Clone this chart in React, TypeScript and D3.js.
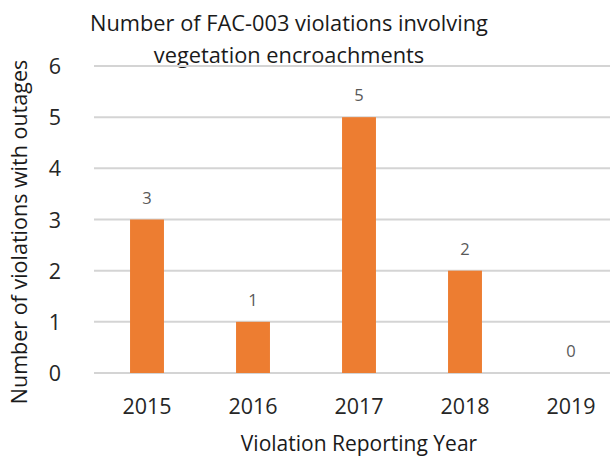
import React from "react";
import * as d3 from "d3";

const years = ["2015", "2016", "2017", "2018", "2019"];
const violations = [3, 1, 5, 2, 0];
const yTicks = [0, 1, 2, 3, 4, 5, 6];
const titleLines = ["Number of FAC-003 violations involving", "vegetation encroachments"];

const width = 610;
const height = 456;
const margin = { top: 66, right: -14, bottom: 84, left: 94 };
const font = "'Open Sans', sans-serif";

export default function App() {
  const x = d3
    .scaleBand<string>()
    .domain(years)
    .range([margin.left, width - margin.right])
    .paddingInner(0.68)
    .paddingOuter(0.34);

  const y = d3
    .scaleLinear()
    .domain([0, 6])
    .range([height - margin.bottom + 1, margin.top]);

  const plotCenter = (margin.left + width - margin.right) / 2;

  return (
    <svg
      width={width}
      height={height}
      style={{ position: "fixed", left: 0, top: 0, background: "#fff" }}
      fontFamily={font}
    >
      {/* title */}
      {titleLines.map((t, i) => (
        <text key={t} x={289} y={31 + i * 32} textAnchor="middle" fontSize={21.8} fill="#1a1a1a">
          {t}
        </text>
      ))}

      {/* grid */}
      {yTicks.map((t) => (
        <g key={t}>
          <line x1={margin.left} x2={width} y1={y(t)} y2={y(t)} stroke="#d4d4d4" strokeWidth={2} />
          <text x={61} y={y(t) + 8} textAnchor="end" fontSize={21.5} fill="#262626">
            {t}
          </text>
        </g>
      ))}

      {/* bars */}
      {years.map((yr, i) => (
        <g key={yr}>
          <rect
            x={x(yr)}
            y={y(violations[i])}
            width={x.bandwidth()}
            height={y(0) - y(violations[i])}
            fill="#ED7D31"
          />
          <text
            x={(x(yr) ?? 0) + x.bandwidth() / 2}
            y={y(violations[i]) - 16}
            textAnchor="middle"
            fontSize={16.5}
            fill="#595959"
          >
            {violations[i]}
          </text>
          <text
            x={(x(yr) ?? 0) + x.bandwidth() / 2}
            y={414}
            textAnchor="middle"
            fontSize={21.5}
            fill="#262626"
          >
            {yr}
          </text>
        </g>
      ))}

      {/* axis titles */}
      <text x={plotCenter} y={451} textAnchor="middle" fontSize={21} fill="#1a1a1a">
        Violation Reporting Year
      </text>
      <text
        transform={`translate(27, ${232}) rotate(-90)`}
        textAnchor="middle"
        fontSize={21.5}
        fill="#1a1a1a"
      >
        Number of violations with outages
      </text>
    </svg>
  );
}
